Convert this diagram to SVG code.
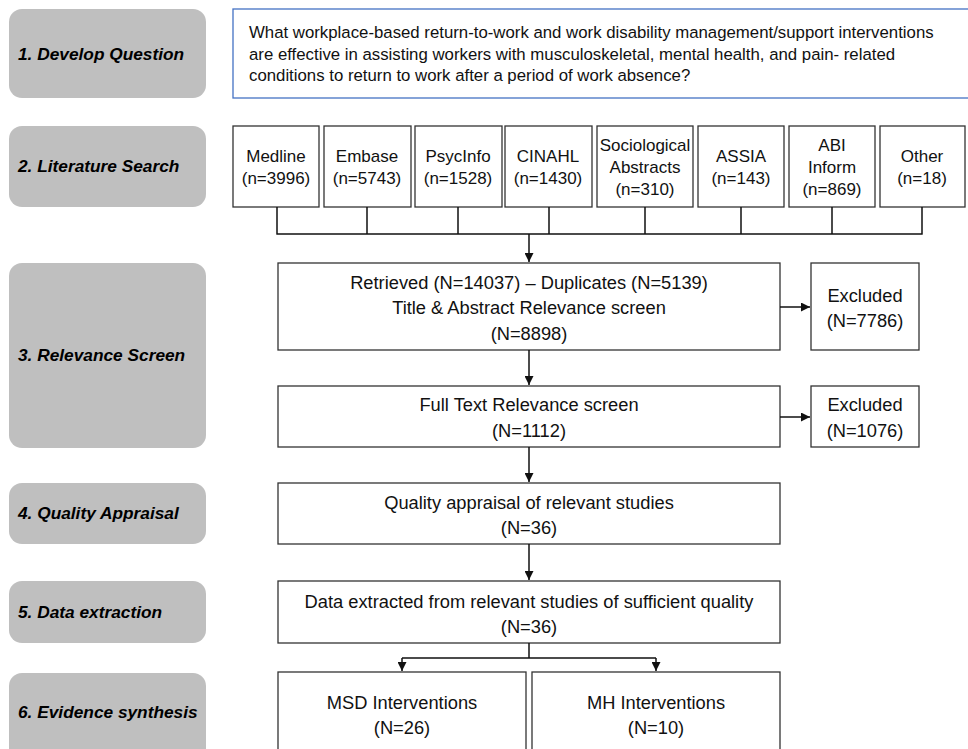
<svg xmlns="http://www.w3.org/2000/svg" width="968" height="749" viewBox="0 0 968 749">
<style>
.stage{fill:#BFBFBF;stroke:none}
.stxt{font-family:"Liberation Sans",Arial,sans-serif;font-size:17.3px;font-weight:bold;font-style:italic;fill:#000}
.box{fill:#fff;stroke:#333;stroke-width:1.3}
.qbox{fill:#fff;stroke:#4472C4;stroke-width:1.3}
.t{font-family:"Liberation Sans",Arial,sans-serif;font-size:17px;fill:#111;text-anchor:middle;dominant-baseline:central}
.m{font-size:18.3px}
.q{font-family:"Liberation Sans",Arial,sans-serif;font-size:16.8px;fill:#111;dominant-baseline:central}
.ln{fill:none;stroke:#111;stroke-width:1.5}
</style>
<defs>
<marker id="ah" viewBox="0 0 10 10" refX="10" refY="5" markerWidth="6" markerHeight="6" orient="auto" markerUnits="strokeWidth">
<path d="M0,0 L10,5 L0,10 z" fill="#111"/>
</marker>
</defs>

<g id="stages">
<g id="stage1"><rect class="stage" x="9" y="9" width="197" height="89" rx="13"/><text class="stxt" x="18" y="60">1. Develop Question</text></g>
<g id="stage2"><rect class="stage" x="9" y="126" width="197" height="81" rx="13"/><text class="stxt" x="18" y="172">2. Literature Search</text></g>
<g id="stage3"><rect class="stage" x="9" y="263" width="197" height="185" rx="13"/><text class="stxt" x="18" y="361">3. Relevance Screen</text></g>
<g id="stage4"><rect class="stage" x="9" y="483" width="197" height="61" rx="13"/><text class="stxt" x="18" y="519">4. Quality Appraisal</text></g>
<g id="stage5"><rect class="stage" x="9" y="581" width="197" height="62" rx="13"/><text class="stxt" x="18" y="618">5. Data extraction</text></g>
<g id="stage6"><rect class="stage" x="9" y="673" width="197" height="90" rx="13"/><text class="stxt" x="18" y="718">6. Evidence synthesis</text></g>
</g>

<g id="question"><rect class="qbox" x="233" y="9" width="760" height="89"/>
<text class="q" x="249" y="32">What workplace-based return-to-work and work disability management/support interventions</text>
<text class="q" x="249" y="54">are effective in assisting workers with musculoskeletal, mental health, and pain- related</text>
<text class="q" x="249" y="75">conditions to return to work after a period of work absence?</text>
</g>

<g id="medline"><rect class="box" x="233" y="126" width="86" height="81"/><text class="t" x="276" y="156">Medline</text><text class="t" x="276" y="178">(n=3996)</text></g>
<g id="embase"><rect class="box" x="324" y="126" width="87" height="81"/><text class="t" x="367" y="156">Embase</text><text class="t" x="367" y="178">(n=5743)</text></g>
<g id="psycinfo"><rect class="box" x="415" y="126" width="87" height="81"/><text class="t" x="458" y="156">PsycInfo</text><text class="t" x="458" y="178">(n=1528)</text></g>
<g id="cinahl"><rect class="box" x="505" y="126" width="87" height="81"/><text class="t" x="548" y="156">CINAHL</text><text class="t" x="548" y="178">(n=1430)</text></g>
<g id="socio"><rect class="box" x="597" y="126" width="96" height="81"/><text class="t" x="645" y="145">Sociological</text><text class="t" x="645" y="167">Abstracts</text><text class="t" x="645" y="189">(n=310)</text></g>
<g id="assia"><rect class="box" x="698" y="126" width="86" height="81"/><text class="t" x="741" y="156">ASSIA</text><text class="t" x="741" y="178">(n=143)</text></g>
<g id="abi"><rect class="box" x="789" y="126" width="86" height="81"/><text class="t" x="832" y="145">ABI</text><text class="t" x="832" y="167">Inform</text><text class="t" x="832" y="189">(n=869)</text></g>
<g id="other"><rect class="box" x="880" y="126" width="85" height="81"/><text class="t" x="922" y="156">Other</text><text class="t" x="922" y="178">(n=18)</text></g>

<g id="retrieved"><rect class="box" x="278" y="263" width="502" height="87"/>
<text class="t m" x="529" y="282">Retrieved (N=14037) – Duplicates (N=5139)</text>
<text class="t m" x="529" y="307">Title &amp; Abstract Relevance screen</text>
<text class="t m" x="529" y="333">(N=8898)</text></g>
<g id="excluded1"><rect class="box" x="811" y="263" width="108" height="87"/><text class="t m" x="865" y="295">Excluded</text><text class="t m" x="865" y="320">(N=7786)</text></g>
<g id="fulltext"><rect class="box" x="278" y="386" width="502" height="61"/><text class="t m" x="529" y="404">Full Text Relevance screen</text><text class="t m" x="529" y="430">(N=1112)</text></g>
<g id="excluded2"><rect class="box" x="811" y="386" width="108" height="61"/><text class="t m" x="865" y="404">Excluded</text><text class="t m" x="865" y="430">(N=1076)</text></g>
<g id="quality"><rect class="box" x="278" y="483" width="502" height="61"/><text class="t m" x="529" y="502">Quality appraisal of relevant studies</text><text class="t m" x="529" y="527">(N=36)</text></g>
<g id="data"><rect class="box" x="278" y="581" width="502" height="62"/><text class="t m" x="529" y="601">Data extracted from relevant studies of sufficient quality</text><text class="t m" x="529" y="626">(N=36)</text></g>
<g id="msd"><rect class="box" x="278" y="672" width="248" height="90"/><text class="t m" x="402" y="702">MSD Interventions</text><text class="t m" x="402" y="727">(N=26)</text></g>
<g id="mh"><rect class="box" x="532" y="672" width="248" height="90"/><text class="t m" x="656" y="702">MH Interventions</text><text class="t m" x="656" y="727">(N=10)</text></g>

<g id="connectors">
<path class="ln" d="M277,207 V234 M367,207 V234 M458,207 V234 M549,207 V234 M645,207 V234 M741,207 V234 M832,207 V234 M922,207 V234 M276.3,234 H922.7"/>
<path class="ln" d="M529,234 V262" marker-end="url(#ah)"/>
<path class="ln" d="M780,307 H810" marker-end="url(#ah)"/>
<path class="ln" d="M529,350 V385" marker-end="url(#ah)"/>
<path class="ln" d="M780,417 H810" marker-end="url(#ah)"/>
<path class="ln" d="M529,447 V482" marker-end="url(#ah)"/>
<path class="ln" d="M529,544 V580" marker-end="url(#ah)"/>
<path class="ln" d="M529,643 V658 M402,658 H656"/>
<path class="ln" d="M402,658 V671" marker-end="url(#ah)"/>
<path class="ln" d="M656,658 V671" marker-end="url(#ah)"/>
</g>
</svg>
